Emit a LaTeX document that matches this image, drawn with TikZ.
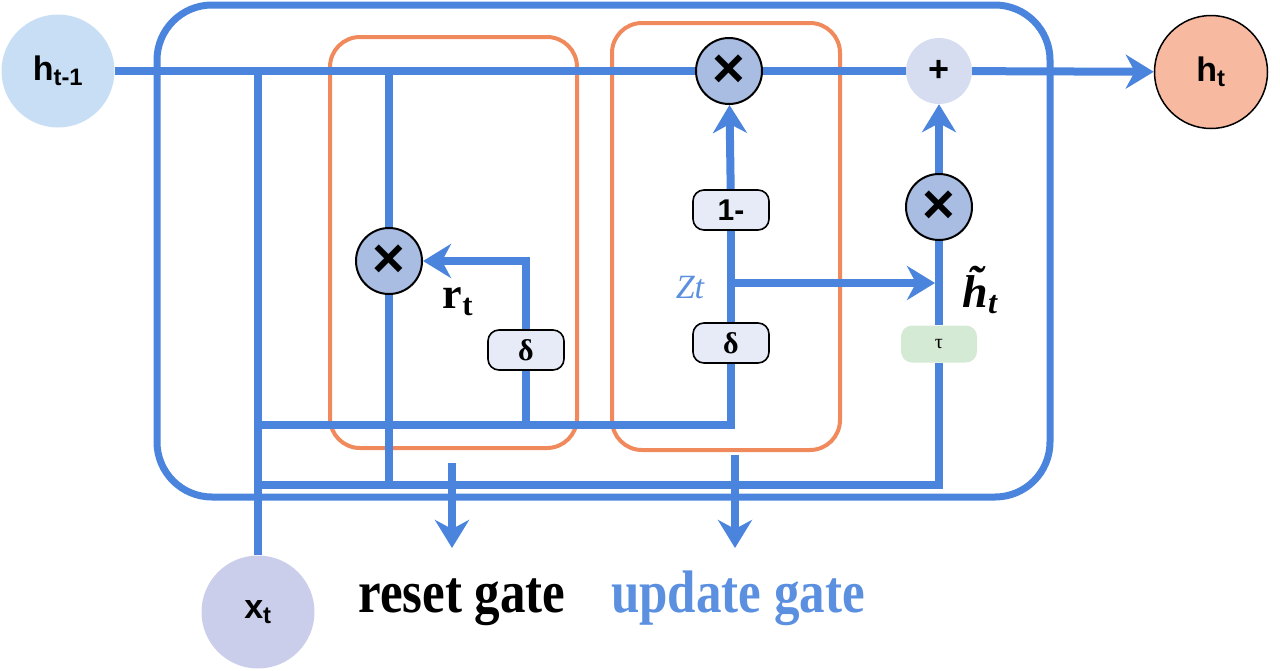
\RequirePackage{fix-cm}
\documentclass[tikz,border=0pt]{standalone}
\usepackage{fontspec}
\setmainfont{Liberation Serif}
\setsansfont{Liberation Sans}
\usepackage{tikz}
\usetikzlibrary{arrows.meta, positioning, calc, backgrounds}
\definecolor{GRUBlue}{HTML}{4A84DC}
\definecolor{GRULightBlue}{HTML}{5B8FE0}
\definecolor{GRUOrange}{HTML}{F08A5D}
\definecolor{GRUSky}{HTML}{C7DEF5}
\definecolor{GRUSalmon}{HTML}{F8B9A1}
\definecolor{GRULilac}{HTML}{CACEEA}
\definecolor{GRUMul}{HTML}{A9BDE3}
\definecolor{GRUPlus}{HTML}{D7DDF1}
\definecolor{GRUPale}{HTML}{E7EAF7}
\definecolor{GRUMint}{HTML}{D5EAD4}
\newcommand{\fsz}[1]{\fontsize{#1}{#1}\selectfont}
\tikzset{
    % State circles
    statenode/.style={
        circle,
        minimum size=113pt,
        inner sep=0pt,
        font=\sffamily\bfseries\fsz{34}
    },
    % Pointwise operations
    mulnode/.style={
        circle,
        draw=black,
        line width=2pt,
        fill=GRUMul,
        minimum size=66pt,
        inner sep=0pt,
        font=\sffamily\bfseries\fsz{56}
    },
    plusnode/.style={
        circle,
        fill=GRUPlus,
        minimum size=66pt,
        inner sep=0pt,
        font=\sffamily\bfseries\fsz{36}
    },
    % Activation boxes
    actbox/.style={
        rectangle,
        rounded corners=11pt,
        draw=black,
        line width=1.6pt,
        fill=GRUPale,
        minimum width=76pt,
        minimum height=40pt,
        inner sep=0pt,
        font=\bfseries\fsz{30}
    },
    tanhbox/.style={
        actbox,
        draw=none,
        fill=GRUMint,
        minimum height=37pt,
        font=\fsz{20}
    },
    % Connector styles
    flow/.style={
        draw=GRUBlue,
        line width=8pt
    },
    flowarrow/.style={
        flow,
        -{Stealth[length=28pt,width=34pt,inset=9pt]}
    },
    % Frames
    cellbox/.style={
        draw=GRUBlue,
        line width=7pt,
        rounded corners=55pt
    },
    gatebox/.style={
        draw=GRUOrange,
        line width=4pt,
        rounded corners=30pt
    },
    gatetext/.style={
        font=\bfseries\fsz{60},
        xscale=0.85,
        inner sep=0pt
    }
}

\begin{document}
\begin{tikzpicture}[x=1pt, y=-1pt]
    \useasboundingbox (0,0) rectangle (1280,670);

    % States
    \node[statenode, fill=GRUSky] (hprev) at (58,71) {h\textsubscript{t-1}};
    \node[statenode, fill=GRUSalmon, draw=black, line width=1.5pt] (hnext) at (1211,72) {h\textsubscript{t}};
    \node[statenode, fill=GRULilac] (xin) at (258,612) {x\textsubscript{t}};

    % Pointwise operations
    \node[mulnode] (mulz) at (729,71) {×};
    \node[plusnode] (plus) at (939,71) {+};
    \node[mulnode] (mulr) at (389,261) {×};
    \node[mulnode] (mulh) at (939,207) {×};

    % Activations
    \node[actbox] (sigr) at (526,350) {δ};
    \node[actbox] (sigz) at (731,343) {δ};
    \node[actbox] (onem) at (731,210) {\sffamily 1-};
    \node[tanhbox] (tanhb) at (939,344) {τ};

    % Labels
    \node[font=\bfseries\fsz{44}] (rlab) at (458,302) {r\textsubscript{t}};
    \node[font=\itshape\fsz{34}, text=GRULightBlue] (zlab) at (690,288) {Zt};
    \node[font=\bfseries\itshape\fsz{46}] (hlab) at (980,290) {\~h\textsubscript{t}};
    \node[gatetext, anchor=base] (rgate) at (462,612) {reset gate};
    \node[gatetext, anchor=base, text=GRULightBlue] (ugate) at (738,612) {update gate};

    % Bus points
    \coordinate (busA) at (258,425);
    \coordinate (busB) at (258,485);
    \coordinate (zfork) at (731,283);
    \coordinate (rtap) at (452,463);
    \coordinate (utap) at (735,455);

    \begin{scope}[on background layer]
        % Cell and gate frames
        \draw[cellbox] (157,5) rectangle (1050,497);
        \draw[gatebox] (330,37) rectangle (577,448);
        \draw[gatebox] (612,23) rectangle (840,450);

        % Hidden state path
        \draw[flow] (hprev) -- (mulz);
        \draw[flow] (mulz) -- (plus);
        \draw[flowarrow] (plus) -- (hnext);

        % Input taps
        \draw[flow] (xin |- hprev) -- (xin);
        \draw[flow] (mulr |- hprev) -- (mulr);
        \draw[flow] (mulr) -- (mulr |- busB);
        \draw[flow] (busA) -| (sigz);
        \draw[flow] (busB) -| (tanhb);

        % Reset gate
        \draw[flow] (sigr) -- (sigr |- busA);
        \draw[flowarrow] (sigr) |- (mulr);

        % Update gate
        \draw[flow] (sigz) -- (onem);
        \draw[flowarrow] (onem) -- (mulz);
        \draw[flowarrow] (zfork) -- ($(zfork -| mulh)+(-4,0)$);

        % Candidate state
        \draw[flow] (tanhb) -- (mulh);
        \draw[flowarrow] (mulh) -- (plus);

        % Gate outputs
        \draw[flowarrow] (rtap) -- ($(rgate.base -| rtap)+(0,-64)$);
        \draw[flowarrow] (utap) -- ($(ugate.base -| utap)+(0,-64)$);
    \end{scope}
\end{tikzpicture}
\end{document}
